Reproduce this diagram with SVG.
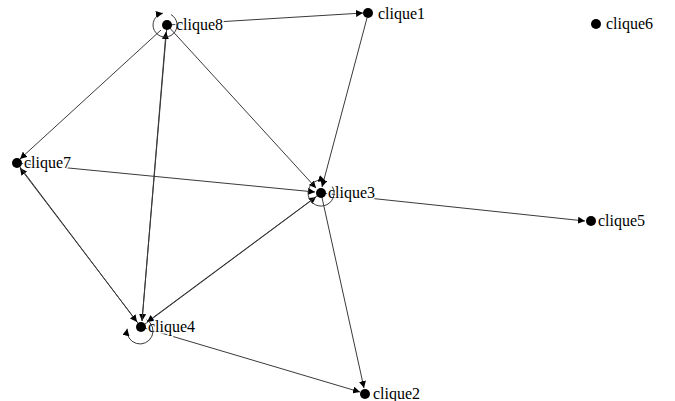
<svg xmlns="http://www.w3.org/2000/svg" width="675" height="401" viewBox="0 0 675 401">
<style>
.e{stroke:#3a3a3a;stroke-width:1;fill:none}
.a{marker-end:url(#ar)}
.n{fill:#000}
.t{font-family:"Liberation Serif",serif;font-size:16px;fill:#000;stroke:#fff;stroke-width:3px;paint-order:stroke;stroke-linejoin:round}
</style>
<defs>
<marker id="ar" viewBox="0 0 10 10" refX="10" refY="5" markerWidth="7" markerHeight="7" orient="auto" markerUnits="userSpaceOnUse"><path d="M0,0 L10,5 L0,10 z" fill="#000"/></marker>
</defs>
<rect width="675" height="401" fill="#fff"/>
<g id="edges">
<path class="e a" d="M167,25 L363,13"/>
<path class="e a" d="M367,18 L322,187"/>
<path class="e a" d="M161,30 L20,159"/>
<path class="e a" d="M167,25 L142,321"/>
<path class="e a" d="M142,321 L166,32"/>
<path class="e a" d="M167,25 L316,188"/>
<path class="e a" d="M17,163 L315,192"/>
<path class="e a" d="M141,327 L20,168"/>
<path class="e a" d="M17,163 L137,322"/>
<path class="e a" d="M141,327 L316,197"/>
<path class="e a" d="M321,193 L147,322"/>
<path class="e a" d="M141,327 L360,392"/>
<path class="e a" d="M321,193 L364,388"/>
<path class="e a" d="M321,193 L585,221"/>
</g>
<g id="clique8"><circle class="n" cx="167" cy="25" r="5"/><text class="t" x="176" y="30">clique8</text><path class="e a" d="M171,14.6 A12,12 0 1 1 162.9,13.2"/></g>
<g id="clique1"><circle class="n" cx="368" cy="13" r="5"/><text class="t" x="378" y="19">clique1</text></g>
<g id="clique6"><circle class="n" cx="596" cy="24" r="5"/><text class="t" x="606" y="29">clique6</text></g>
<g id="clique7"><circle class="n" cx="17" cy="163" r="5"/><text class="t" x="24" y="168">clique7</text></g>
<g id="clique3"><circle class="n" cx="321" cy="193" r="5"/><text class="t" x="328" y="198">clique3</text><path class="e a" d="M332.3,186.5 A13,13 0 1 1 325.4,180.8"/></g>
<g id="clique5"><circle class="n" cx="591" cy="221" r="5"/><text class="t" x="598" y="226">clique5</text></g>
<g id="clique4"><circle class="n" cx="141" cy="327" r="5"/><text class="t" x="148" y="332">clique4</text><path class="e a" d="M146.5,319.7 A13,13 0 1 1 127.2,328.7"/></g>
<g id="clique2"><circle class="n" cx="365" cy="394" r="5"/><text class="t" x="373" y="399">clique2</text></g>
</svg>
